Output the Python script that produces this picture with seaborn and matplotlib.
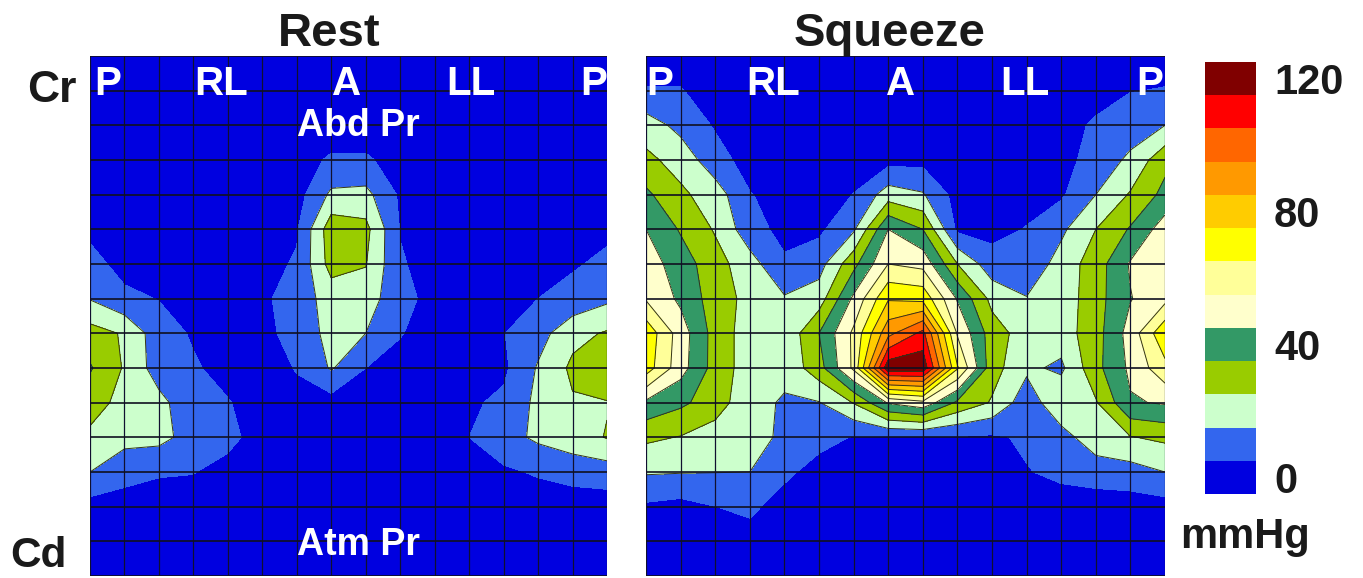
"""Anal pressure topography maps at rest and during squeeze."""

import matplotlib

matplotlib.use("Agg")
import matplotlib.pyplot as plt
import numpy as np
import seaborn as sns
from matplotlib.colors import ListedColormap

# Rows run cranial to caudal, columns run P - RL - A - LL - P (mmHg)
REST_PRESSURE = [
    [1, 1, 1, 1, 1, 1, 1, 1, 1, 1, 1, 1, 1, 1, 1, 1],
    [1, 1, 1, 1, 1, 1, 1, 1, 1, 1, 1, 1, 1, 1, 1, 1],
    [1, 1, 1, 1, 1, 1, 1, 1, 1, 1, 1, 1, 1, 1, 1, 1],
    [1, 1, 1, 1, 1, 1, 2, 6, 6, 2, 1, 1, 1, 1, 1, 1],
    [1, 1, 1, 1, 1, 1, 1, 17, 18, 3.5, 1, 1, 1, 1, 1, 1],
    [3, 1, 1, 1, 1, 1, 4, 31, 28, 4.5, 1, 1, 1, 1, 1, 3],
    [8, 2, 1, 1, 1, 2, 6, 29, 25.5, 6, 1, 1, 1, 1, 4, 7],
    [14.5, 7, 4.7, 2, 1, 3, 10, 19, 20, 8, 2, 1, 2, 5, 8, 13],
    [29, 24, 9, 4, 1, 2, 9, 18, 15, 5.5, 1, 1, 4.7, 11, 22, 26],
    [36, 24, 10, 6, 2, 1, 5.5, 16, 5, 2, 1, 1, 3, 16, 27, 33],
    [29, 22, 18, 8, 5.5, 1, 2.5, 1, 2, 1, 1, 3.5, 7, 17.5, 24, 24.5],
    [23, 18, 18, 11, 7.5, 1, 1, 1, 1, 1, 1, 5, 11, 17, 21, 25.5],
    [15, 9, 6, 5.3, 2, 1, 1, 1, 1, 1, 1, 1, 3.5, 6, 8.5, 10],
    [1, 0, 0, 1, 1, 1, 1, 1, 1, 1, 1, 1, 1, 0, 0, 0],
    [1, 1, 1, 1, 1, 1, 1, 1, 1, 1, 1, 1, 1, 1, 1, 1],
    [1, 1, 1, 1, 1, 1, 1, 1, 1, 1, 1, 1, 1, 1, 1, 1],
]
SQUEEZE_PRESSURE = [
    [1, 1, 1, 1, 1, 1, 1, 1, 1, 1, 1, 1, 1, 1, 1, 1],
    [5.5, 5.5, 1, 1, 1, 1, 1, 1, 1, 1, 1, 1, 1, 1, 4.7, 5.5],
    [20, 12, 4, 1, 1, 1, 1, 1, 1, 1, 1, 1, 1, 6.5, 10, 15],
    [27.5, 21, 9, 1, 1, 1, 1, 1.5, 2, 1, 1, 1, 1.5, 9, 17, 32],
    [37, 27, 20, 5.5, 1, 1, 5.2, 20, 16, 1, 1, 1, 3.5, 15, 26, 38],
    [45, 34, 24, 9, 2, 3, 13.5, 45, 35, 3, 2, 5.5, 13, 25, 36, 50],
    [50, 40, 29, 19, 6.5, 11, 32, 55, 52, 25, 9, 8, 19, 30, 46, 50],
    [54, 43, 30, 22, 16, 20, 47, 74, 72, 44, 22, 15.5, 19, 31, 44.5, 52],
    [72, 50, 31, 20, 17, 35, 57, 92, 108, 54, 30, 20, 20, 31, 49, 73],
    [70, 49, 31, 20, 17.5, 31, 57, 122, 122, 66, 29, 17, 13, 32, 47, 62],
    [43, 37, 30, 18, 14, 14.5, 25.5, 46, 52, 33, 24, 9, 23, 24, 44, 46],
    [27, 24.5, 20, 18, 13.5, 8, 4.5, 4.3, 4.3, 4.3, 3.5, 6.5, 11, 21, 24.5, 27],
    [16, 15.5, 15.2, 15, 7, 1.5, 1, 1, 1, 1, 1, 4.5, 7, 9.5, 11, 15],
    [3.4, 1.7, 4.9, 7, 1, 1, 1, 1, 1, 1, 1, 1, 1, 0, 0, 1],
    [1, 1, 1, 1, 1, 1, 1, 1, 1, 1, 1, 1, 1, 1, 1, 1],
    [1, 1, 1, 1, 1, 1, 1, 1, 1, 1, 1, 1, 1, 1, 1, 1],
]

BAND_VALUES = [120, 110, 100, 90, 80, 70, 60, 50, 40, 30, 20, 10, 0]
BAND_LABELS = ["120", "", "", "", "80", "", "", "", "40", "", "", "", "0"]
BAND_COLORS = [
    "#0000E0",
    "#3366EE",
    "#CCFFCC",
    "#99CC00",
    "#339966",
    "#FFFFCC",
    "#FFFF99",
    "#FFFF00",
    "#FFCC00",
    "#FF9900",
    "#FF6600",
    "#FF0000",
    "#800000",
]
LEVELS = [-5, 5, 15, 25, 35, 45, 55, 65, 75, 85, 95, 105, 115, 125]
SIDE_LABELS = ["P", "RL", "A", "LL", "P"]

WIDTH, HEIGHT = 1363, 578
TEXT_COLOR = "#1a1a1a"

sns.set_theme(style="white")
plt.rcParams["font.family"] = ["Liberation Sans", "DejaVu Sans"]
plt.rcParams["font.weight"] = "bold"
plt.rcParams["text.color"] = TEXT_COLOR


def _add_axes(fig, left, top, right, bottom):
    return fig.add_axes(
        [
            left / WIDTH,
            1 - bottom / HEIGHT,
            (right - left) / WIDTH,
            (bottom - top) / HEIGHT,
        ]
    )


def _plot_map(ax, values, title, title_x, label_x):
    data = np.array(values, dtype=float)
    ax.contourf(data, levels=LEVELS, colors=BAND_COLORS)
    ax.contour(data, levels=LEVELS[2:], colors="#33331a", linewidths=0.7)
    ax.set_xlim(0, 15)
    ax.set_ylim(15, 0)
    ax.set_xticks(np.arange(16))
    ax.set_yticks(np.arange(16))
    ax.tick_params(left=False, bottom=False, labelleft=False, labelbottom=False)
    ax.grid(True, axis="x", color="#101030", linewidth=0.9)
    ax.grid(True, axis="y", color="#101020", linewidth=1.2)
    ax.set_axisbelow(False)
    for spine in ax.spines.values():
        spine.set_visible(False)
    ax.set_title(title, x=title_x, fontsize=34, fontweight="bold", pad=1)

    for x, label in zip(label_x, SIDE_LABELS):
        ax.text(
            x,
            0.8,
            label,
            color="white",
            fontsize=29,
            ha="center",
            va="center",
            clip_on=True,
        )


fig = plt.figure(figsize=(WIDTH / 100, HEIGHT / 100), dpi=100, facecolor="white")

ax_rest = _add_axes(fig, 90, 56, 607, 576)
ax_squeeze = _add_axes(fig, 646, 56, 1165, 576)
ax_bar = _add_axes(fig, 1205, 62, 1256, 494)

_plot_map(ax_rest, REST_PRESSURE, "Rest", 0.462, [0.5, 3.8, 7.45, 11.05, 14.6])
_plot_map(
    ax_squeeze, SQUEEZE_PRESSURE, "Squeeze", 0.47, [0.4, 3.68, 7.35, 10.95, 14.55]
)

ax_rest.text(7.8, 2.03, "Abd Pr", color="white", fontsize=27, ha="center", va="center")
ax_rest.text(7.8, 14.12, "Atm Pr", color="white", fontsize=27, ha="center", va="center")

# Colour key
sns.heatmap(
    np.array(BAND_VALUES).reshape(-1, 1),
    cmap=ListedColormap(BAND_COLORS),
    vmin=-5,
    vmax=125,
    cbar=False,
    xticklabels=False,
    yticklabels=BAND_LABELS,
    ax=ax_bar,
)
ax_bar.yaxis.tick_right()
ax_bar.tick_params(
    axis="y", length=0, pad=13, labelsize=30, labelrotation=0, labelcolor=TEXT_COLOR
)

fig.text(27 / WIDTH, 1 - 91 / HEIGHT, "Cr", fontsize=32, va="center")
fig.text(10 / WIDTH, 1 - 556 / HEIGHT, "Cd", fontsize=30.5, va="center")
fig.text(1180 / WIDTH, 1 - 537 / HEIGHT, "mmHg", fontsize=30, va="center")

fig.savefig("out.png", dpi=100, facecolor="white")
